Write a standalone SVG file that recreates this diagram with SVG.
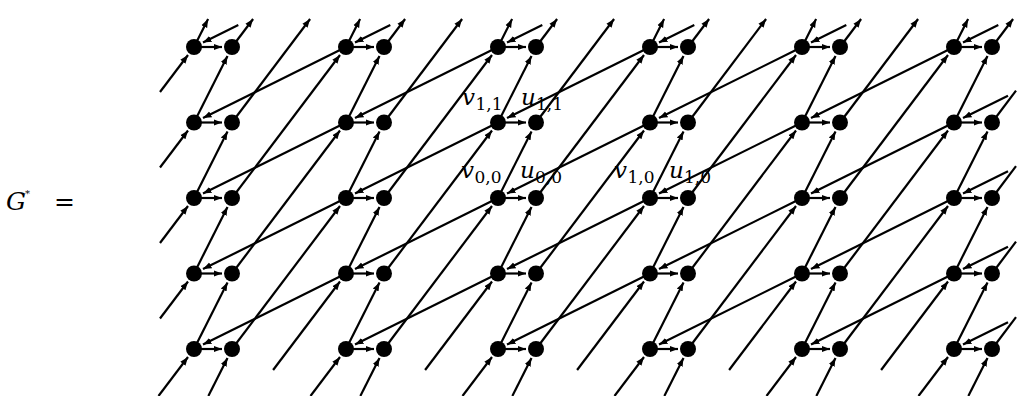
<svg xmlns="http://www.w3.org/2000/svg" width="1018" height="396" viewBox="0 0 1018 396">
<style>
line{stroke:#000;stroke-width:2.2;stroke-linecap:butt}
.a{marker-end:url(#ah)}
circle{fill:#000}
text{font-family:"DejaVu Serif","Liberation Serif",serif;fill:#000}
.m{font-style:italic;font-size:23px}
.s{font-size:17px}
</style>
<defs>
<marker id="ah" markerUnits="userSpaceOnUse" markerWidth="10" markerHeight="8" refX="8.5" refY="4" orient="auto"><path d="M0,0.8 L8.5,4 L0,7.2 z" fill="#000"/></marker>
</defs>
<rect width="1018" height="396" fill="#fff"/>
<g id="title">
<text x="6" y="210" class="m" style="font-size:25px">G</text>
<text x="25" y="197" style="font-size:10px">*</text>
<text x="54" y="210" style="font-size:25px">=</text>
</g>
<g id="connectors">
<line class="a" x1="194" y1="47" x2="222" y2="47"/><line class="a" x1="346" y1="47" x2="374" y2="47"/><line class="a" x1="498" y1="47" x2="526" y2="47"/><line class="a" x1="650" y1="47" x2="678" y2="47"/><line class="a" x1="802" y1="47" x2="830" y2="47"/><line class="a" x1="954" y1="47" x2="982" y2="47"/>
<line class="a" x1="194" y1="122.5" x2="222" y2="122.5"/><line class="a" x1="346" y1="122.5" x2="374" y2="122.5"/><line class="a" x1="498" y1="122.5" x2="526" y2="122.5"/><line class="a" x1="650" y1="122.5" x2="678" y2="122.5"/><line class="a" x1="802" y1="122.5" x2="830" y2="122.5"/><line class="a" x1="954" y1="122.5" x2="982" y2="122.5"/>
<line class="a" x1="194" y1="198" x2="222" y2="198"/><line class="a" x1="346" y1="198" x2="374" y2="198"/><line class="a" x1="498" y1="198" x2="526" y2="198"/><line class="a" x1="650" y1="198" x2="678" y2="198"/><line class="a" x1="802" y1="198" x2="830" y2="198"/><line class="a" x1="954" y1="198" x2="982" y2="198"/>
<line class="a" x1="194" y1="273.5" x2="222" y2="273.5"/><line class="a" x1="346" y1="273.5" x2="374" y2="273.5"/><line class="a" x1="498" y1="273.5" x2="526" y2="273.5"/><line class="a" x1="650" y1="273.5" x2="678" y2="273.5"/><line class="a" x1="802" y1="273.5" x2="830" y2="273.5"/><line class="a" x1="954" y1="273.5" x2="982" y2="273.5"/>
<line class="a" x1="194" y1="349" x2="222" y2="349"/><line class="a" x1="346" y1="349" x2="374" y2="349"/><line class="a" x1="498" y1="349" x2="526" y2="349"/><line class="a" x1="650" y1="349" x2="678" y2="349"/><line class="a" x1="802" y1="349" x2="830" y2="349"/><line class="a" x1="954" y1="349" x2="982" y2="349"/>
<line class="a" x1="194" y1="47" x2="208.1" y2="19"/><line class="a" x1="346" y1="47" x2="360.1" y2="19"/><line class="a" x1="498" y1="47" x2="512.1" y2="19"/><line class="a" x1="650" y1="47" x2="664.1" y2="19"/><line class="a" x1="802" y1="47" x2="816.1" y2="19"/><line class="a" x1="954" y1="47" x2="968.1" y2="19"/>
<line class="a" x1="194" y1="122.5" x2="227.5" y2="55.9"/><line class="a" x1="346" y1="122.5" x2="379.5" y2="55.9"/><line class="a" x1="498" y1="122.5" x2="531.5" y2="55.9"/><line class="a" x1="650" y1="122.5" x2="683.5" y2="55.9"/><line class="a" x1="802" y1="122.5" x2="835.5" y2="55.9"/><line class="a" x1="954" y1="122.5" x2="987.5" y2="55.9"/>
<line class="a" x1="194" y1="198" x2="227.5" y2="131.4"/><line class="a" x1="346" y1="198" x2="379.5" y2="131.4"/><line class="a" x1="498" y1="198" x2="531.5" y2="131.4"/><line class="a" x1="650" y1="198" x2="683.5" y2="131.4"/><line class="a" x1="802" y1="198" x2="835.5" y2="131.4"/><line class="a" x1="954" y1="198" x2="987.5" y2="131.4"/>
<line class="a" x1="194" y1="273.5" x2="227.5" y2="206.9"/><line class="a" x1="346" y1="273.5" x2="379.5" y2="206.9"/><line class="a" x1="498" y1="273.5" x2="531.5" y2="206.9"/><line class="a" x1="650" y1="273.5" x2="683.5" y2="206.9"/><line class="a" x1="802" y1="273.5" x2="835.5" y2="206.9"/><line class="a" x1="954" y1="273.5" x2="987.5" y2="206.9"/>
<line class="a" x1="194" y1="349" x2="227.5" y2="282.4"/><line class="a" x1="346" y1="349" x2="379.5" y2="282.4"/><line class="a" x1="498" y1="349" x2="531.5" y2="282.4"/><line class="a" x1="650" y1="349" x2="683.5" y2="282.4"/><line class="a" x1="802" y1="349" x2="835.5" y2="282.4"/><line class="a" x1="954" y1="349" x2="987.5" y2="282.4"/>
<line class="a" x1="208.35" y1="396" x2="227.5" y2="357.9"/><line class="a" x1="360.35" y1="396" x2="379.5" y2="357.9"/><line class="a" x1="512.35" y1="396" x2="531.5" y2="357.9"/><line class="a" x1="664.35" y1="396" x2="683.5" y2="357.9"/><line class="a" x1="816.35" y1="396" x2="835.5" y2="357.9"/><line class="a" x1="968.35" y1="396" x2="987.5" y2="357.9"/>
<line class="a" x1="232" y1="47" x2="253.1" y2="19"/><line class="a" x1="384" y1="47" x2="405.1" y2="19"/><line class="a" x1="536" y1="47" x2="557.1" y2="19"/><line class="a" x1="688" y1="47" x2="709.1" y2="19"/><line class="a" x1="840" y1="47" x2="861.1" y2="19"/><line class="a" x1="992" y1="47" x2="1013.1" y2="19"/>
<line class="a" x1="232" y1="122.5" x2="310.1" y2="19"/><line class="a" x1="384" y1="122.5" x2="462.1" y2="19"/><line class="a" x1="536" y1="122.5" x2="614.1" y2="19"/><line class="a" x1="688" y1="122.5" x2="766.1" y2="19"/><line class="a" x1="840" y1="122.5" x2="918.1" y2="19"/><line x1="992" y1="122.5" x2="1016" y2="90.7"/>
<line class="a" x1="232" y1="198" x2="340" y2="55"/><line class="a" x1="384" y1="198" x2="492" y2="55"/><line class="a" x1="536" y1="198" x2="644" y2="55"/><line class="a" x1="688" y1="198" x2="796" y2="55"/><line class="a" x1="840" y1="198" x2="948" y2="55"/><line x1="992" y1="198" x2="1016" y2="166.2"/>
<line class="a" x1="232" y1="273.5" x2="340" y2="130.5"/><line class="a" x1="384" y1="273.5" x2="492" y2="130.5"/><line class="a" x1="536" y1="273.5" x2="644" y2="130.5"/><line class="a" x1="688" y1="273.5" x2="796" y2="130.5"/><line class="a" x1="840" y1="273.5" x2="948" y2="130.5"/><line x1="992" y1="273.5" x2="1016" y2="241.7"/>
<line class="a" x1="232" y1="349" x2="340" y2="206"/><line class="a" x1="384" y1="349" x2="492" y2="206"/><line class="a" x1="536" y1="349" x2="644" y2="206"/><line class="a" x1="688" y1="349" x2="796" y2="206"/><line class="a" x1="840" y1="349" x2="948" y2="206"/><line x1="992" y1="349" x2="1016" y2="317.2"/>
<line class="a" x1="160" y1="92" x2="188" y2="55"/><line class="a" x1="160" y1="167.5" x2="188" y2="130.5"/><line class="a" x1="160" y1="243" x2="188" y2="206"/><line class="a" x1="160" y1="318.5" x2="188" y2="281.5"/>
<line class="a" x1="273.1" y1="370" x2="340" y2="281.5"/><line class="a" x1="425.1" y1="370" x2="492" y2="281.5"/><line class="a" x1="577.1" y1="370" x2="644" y2="281.5"/><line class="a" x1="729.1" y1="370" x2="796" y2="281.5"/><line class="a" x1="881.1" y1="370" x2="948" y2="281.5"/>
<line class="a" x1="158.5" y1="396" x2="188" y2="357"/><line class="a" x1="310.5" y1="396" x2="340" y2="357"/><line class="a" x1="462.5" y1="396" x2="492" y2="357"/><line class="a" x1="614.5" y1="396" x2="644" y2="357"/><line class="a" x1="766.5" y1="396" x2="796" y2="357"/><line class="a" x1="918.5" y1="396" x2="948" y2="357"/>
<line class="a" x1="238.3" y1="25" x2="203" y2="42.6"/><line class="a" x1="390.3" y1="25" x2="355" y2="42.6"/><line class="a" x1="542.3" y1="25" x2="507" y2="42.6"/><line class="a" x1="694.3" y1="25" x2="659" y2="42.6"/><line class="a" x1="846.3" y1="25" x2="811" y2="42.6"/><line class="a" x1="998.3" y1="25" x2="963" y2="42.6"/>
<line class="a" x1="346" y1="47" x2="203" y2="118.1"/><line class="a" x1="498" y1="47" x2="355" y2="118.1"/><line class="a" x1="650" y1="47" x2="507" y2="118.1"/><line class="a" x1="802" y1="47" x2="659" y2="118.1"/><line class="a" x1="954" y1="47" x2="811" y2="118.1"/><line class="a" x1="1008" y1="95.7" x2="963" y2="118.1"/>
<line class="a" x1="346" y1="122.5" x2="203" y2="193.6"/><line class="a" x1="498" y1="122.5" x2="355" y2="193.6"/><line class="a" x1="650" y1="122.5" x2="507" y2="193.6"/><line class="a" x1="802" y1="122.5" x2="659" y2="193.6"/><line class="a" x1="954" y1="122.5" x2="811" y2="193.6"/><line class="a" x1="1008" y1="171.2" x2="963" y2="193.6"/>
<line class="a" x1="346" y1="198" x2="203" y2="269.1"/><line class="a" x1="498" y1="198" x2="355" y2="269.1"/><line class="a" x1="650" y1="198" x2="507" y2="269.1"/><line class="a" x1="802" y1="198" x2="659" y2="269.1"/><line class="a" x1="954" y1="198" x2="811" y2="269.1"/><line class="a" x1="1008" y1="246.7" x2="963" y2="269.1"/>
<line class="a" x1="346" y1="273.5" x2="203" y2="344.6"/><line class="a" x1="498" y1="273.5" x2="355" y2="344.6"/><line class="a" x1="650" y1="273.5" x2="507" y2="344.6"/><line class="a" x1="802" y1="273.5" x2="659" y2="344.6"/><line class="a" x1="954" y1="273.5" x2="811" y2="344.6"/><line class="a" x1="1008" y1="322.2" x2="963" y2="344.6"/>
</g>
<g id="v-0-0"><circle cx="194" cy="47" r="8"/></g><g id="u-0-0"><circle cx="232" cy="47" r="8"/></g>
<g id="v-1-0"><circle cx="346" cy="47" r="8"/></g><g id="u-1-0"><circle cx="384" cy="47" r="8"/></g>
<g id="v-2-0"><circle cx="498" cy="47" r="8"/></g><g id="u-2-0"><circle cx="536" cy="47" r="8"/></g>
<g id="v-3-0"><circle cx="650" cy="47" r="8"/></g><g id="u-3-0"><circle cx="688" cy="47" r="8"/></g>
<g id="v-4-0"><circle cx="802" cy="47" r="8"/></g><g id="u-4-0"><circle cx="840" cy="47" r="8"/></g>
<g id="v-5-0"><circle cx="954" cy="47" r="8"/></g><g id="u-5-0"><circle cx="992" cy="47" r="8"/></g>
<g id="v-0-1"><circle cx="194" cy="122.5" r="8"/></g><g id="u-0-1"><circle cx="232" cy="122.5" r="8"/></g>
<g id="v-1-1"><circle cx="346" cy="122.5" r="8"/></g><g id="u-1-1"><circle cx="384" cy="122.5" r="8"/></g>
<g id="v11"><circle cx="498" cy="122.5" r="8"/><text x="462" y="105" class="m">v</text><text x="475.5" y="110" class="s">1,1</text></g>
<g id="u11"><circle cx="536" cy="122.5" r="8"/><text x="521" y="105" class="m">u</text><text x="536" y="110" class="s">1,1</text></g>
<g id="v-3-1"><circle cx="650" cy="122.5" r="8"/></g><g id="u-3-1"><circle cx="688" cy="122.5" r="8"/></g>
<g id="v-4-1"><circle cx="802" cy="122.5" r="8"/></g><g id="u-4-1"><circle cx="840" cy="122.5" r="8"/></g>
<g id="v-5-1"><circle cx="954" cy="122.5" r="8"/></g><g id="u-5-1"><circle cx="992" cy="122.5" r="8"/></g>
<g id="v-0-2"><circle cx="194" cy="198" r="8"/></g><g id="u-0-2"><circle cx="232" cy="198" r="8"/></g>
<g id="v-1-2"><circle cx="346" cy="198" r="8"/></g><g id="u-1-2"><circle cx="384" cy="198" r="8"/></g>
<g id="v00"><circle cx="498" cy="198" r="8"/><text x="461" y="178" class="m">v</text><text x="474.5" y="183" class="s">0,0</text></g>
<g id="u00"><circle cx="536" cy="198" r="8"/><text x="520" y="178" class="m">u</text><text x="535" y="183" class="s">0,0</text></g>
<g id="v10"><circle cx="650" cy="198" r="8"/><text x="614" y="178" class="m">v</text><text x="627.5" y="183" class="s">1,0</text></g>
<g id="u10"><circle cx="688" cy="198" r="8"/><text x="669" y="178" class="m">u</text><text x="684" y="183" class="s">1,0</text></g>
<g id="v-4-2"><circle cx="802" cy="198" r="8"/></g><g id="u-4-2"><circle cx="840" cy="198" r="8"/></g>
<g id="v-5-2"><circle cx="954" cy="198" r="8"/></g><g id="u-5-2"><circle cx="992" cy="198" r="8"/></g>
<g id="v-0-3"><circle cx="194" cy="273.5" r="8"/></g><g id="u-0-3"><circle cx="232" cy="273.5" r="8"/></g>
<g id="v-1-3"><circle cx="346" cy="273.5" r="8"/></g><g id="u-1-3"><circle cx="384" cy="273.5" r="8"/></g>
<g id="v-2-3"><circle cx="498" cy="273.5" r="8"/></g><g id="u-2-3"><circle cx="536" cy="273.5" r="8"/></g>
<g id="v-3-3"><circle cx="650" cy="273.5" r="8"/></g><g id="u-3-3"><circle cx="688" cy="273.5" r="8"/></g>
<g id="v-4-3"><circle cx="802" cy="273.5" r="8"/></g><g id="u-4-3"><circle cx="840" cy="273.5" r="8"/></g>
<g id="v-5-3"><circle cx="954" cy="273.5" r="8"/></g><g id="u-5-3"><circle cx="992" cy="273.5" r="8"/></g>
<g id="v-0-4"><circle cx="194" cy="349" r="8"/></g><g id="u-0-4"><circle cx="232" cy="349" r="8"/></g>
<g id="v-1-4"><circle cx="346" cy="349" r="8"/></g><g id="u-1-4"><circle cx="384" cy="349" r="8"/></g>
<g id="v-2-4"><circle cx="498" cy="349" r="8"/></g><g id="u-2-4"><circle cx="536" cy="349" r="8"/></g>
<g id="v-3-4"><circle cx="650" cy="349" r="8"/></g><g id="u-3-4"><circle cx="688" cy="349" r="8"/></g>
<g id="v-4-4"><circle cx="802" cy="349" r="8"/></g><g id="u-4-4"><circle cx="840" cy="349" r="8"/></g>
<g id="v-5-4"><circle cx="954" cy="349" r="8"/></g><g id="u-5-4"><circle cx="992" cy="349" r="8"/></g>
</svg>
